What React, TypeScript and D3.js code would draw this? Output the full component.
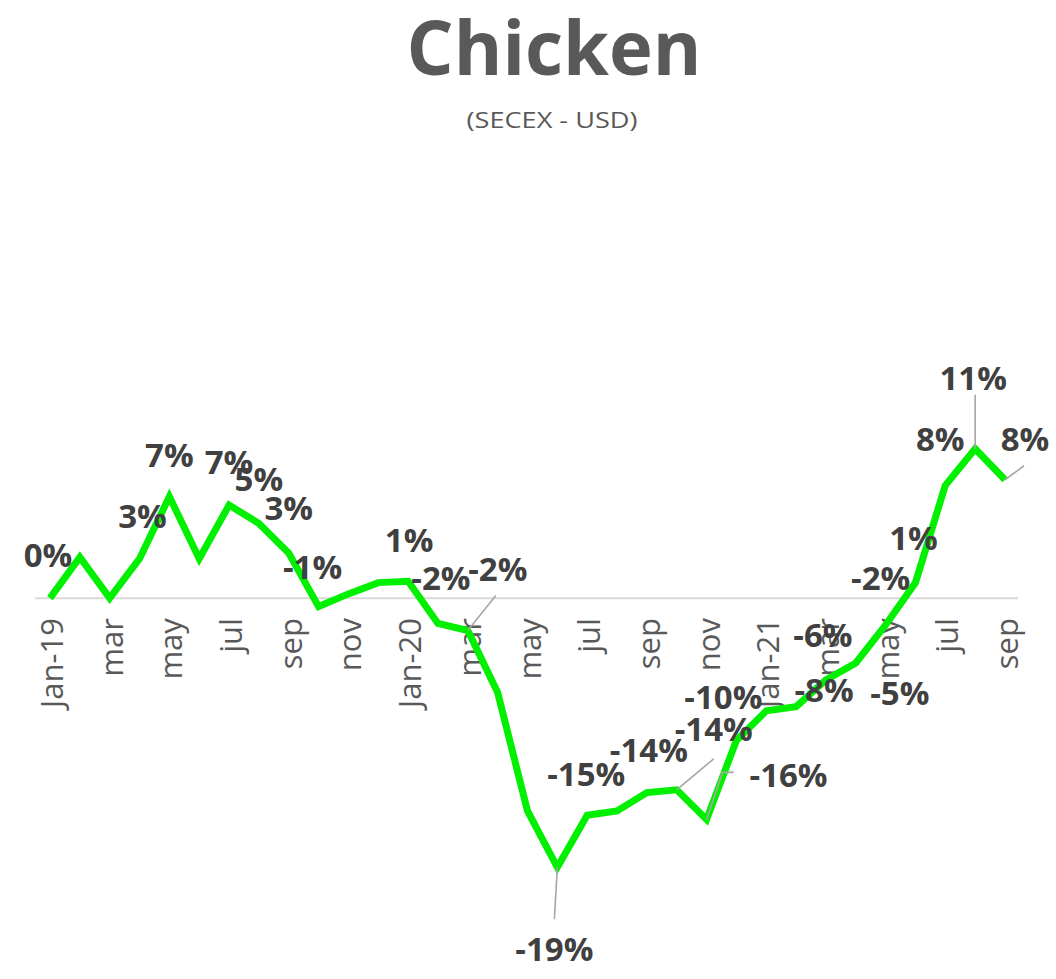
import React from 'react';
import * as d3 from 'd3';

// monthly change, Jan-19 .. Sep-21 (%)
const months = [
  'Jan-19', 'Feb-19', 'Mar-19', 'Apr-19', 'May-19', 'Jun-19', 'Jul-19', 'Aug-19', 'Sep-19', 'Oct-19', 'Nov-19', 'Dec-19',
  'Jan-20', 'Feb-20', 'Mar-20', 'Apr-20', 'May-20', 'Jun-20', 'Jul-20', 'Aug-20', 'Sep-20', 'Oct-20', 'Nov-20', 'Dec-20',
  'Jan-21', 'Feb-21', 'Mar-21', 'Apr-21', 'May-21', 'Jun-21', 'Jul-21', 'Aug-21', 'Sep-21',
];
const tickLabels = [
  'Jan-19', '', 'mar', '', 'may', '', 'jul', '', 'sep', '', 'nov', '',
  'Jan-20', '', 'mar', '', 'may', '', 'jul', '', 'sep', '', 'nov', '',
  'Jan-21', '', 'mar', '', 'may', '', 'jul', '', 'sep',
];
const values = [
  0, 2.9, 0, 2.8, 7.2, 2.8, 6.6, 5.3, 3.2, -0.6, 0.3, 1.1,
  1.2, -1.8, -2.3, -6.7, -15.1, -19.1, -15.4, -15.1, -13.8, -13.6, -15.7, -10.1,
  -8.0, -7.7, -5.8, -4.6, -1.9, 1.1, 8.0, 10.6, 8.4,
];

// which points carry a data label, and where the label sits relative to the point
const labelPlacement = [
  { i: 0, dx: -2, dy: -43 },
  { i: 3, dx: 3, dy: -43 },
  { i: 4, dx: 0, dy: -42 },
  { i: 6, dx: 0, dy: -43 },
  { i: 7, dx: 0, dy: -44 },
  { i: 8, dx: 0, dy: -45 },
  { i: 9, dx: -6, dy: -40 },
  { i: 12, dx: 1, dy: -41 },
  { i: 13, dx: 3, dy: -45 },
  { i: 14, dx: 30, dy: -62, leader: [[0, 0], [28, -35]] },
  { i: 17, dx: -3, dy: 82, leader: [[0, 0], [-3, 52]] },
  { i: 18, dx: -1, dy: -41 },
  { i: 20, dx: 2, dy: -43 },
  { i: 21, dx: 37, dy: -61, leader: [[0, 0], [37, -31]] },
  { i: 22, dx: 82, dy: -44, leader: [[0, 0], [16, -47], [27, -47]] },
  { i: 23, dx: -13, dy: -43 },
  { i: 25, dx: 28, dy: -17 },
  { i: 26, dx: -3, dy: -45 },
  { i: 27, dx: 44, dy: 30 },
  { i: 28, dx: -5, dy: -47 },
  { i: 29, dx: -2, dy: -45 },
  { i: 30, dx: -5, dy: -46 },
  { i: 31, dx: -2, dy: -71, leader: [[0, 0], [0, -54]] },
  { i: 32, dx: 20, dy: -41, leader: [[0, 0], [19, -14]] },
];

const W = 1056;
const H = 979;
const font = '"Open Sans", "Noto Sans", sans-serif';

const App = () => {
  const x = d3.scalePoint<string>().domain(months).range([50, 1005]);
  const y = d3.scaleLinear().domain([-20, 12]).range([880, 429]);

  const line = d3
    .line<number>()
    .x((_, i) => x(months[i]) as number)
    .y(d => y(d));

  const leaderLine = d3.line();

  return (
    <svg width={W} height={H} style={{ position: 'absolute', left: 0, top: 0, background: '#fff' }}>
      <text x={554} y={75} textAnchor="middle" fontFamily={font} fontWeight="bold" fontSize={76}
        fill="#595959" textLength={295} lengthAdjust="spacingAndGlyphs">Chicken</text>
      <text x={552} y={128} textAnchor="middle" fontFamily={font} fontSize={21}
        fill="#595959" textLength={171} lengthAdjust="spacingAndGlyphs">(SECEX - USD)</text>

      {/* zero axis */}
      <line x1={35} x2={1018} y1={y(0)} y2={y(0)} stroke="#d9d9d9" strokeWidth={2} />

      {/* category ticks */}
      {months.map((m, i) => tickLabels[i] ? (
        <text key={m} transform={`translate(${x(m)},${y(0) + 20}) rotate(-90)`} textAnchor="end"
          dy="0.42em" fontFamily={font} fontSize={31} fill="#595959">{tickLabels[i]}</text>
      ) : null)}

      <path d={line(values) || ''} fill="none" stroke="#00f000" strokeWidth={7} />

      {/* leader lines */}
      {labelPlacement.filter(p => p.leader).map(p => {
        const px = x(months[p.i]) as number;
        const py = y(values[p.i]);
        const pts = p.leader!.map(([a, b]) => [px + a, py + b] as [number, number]);
        return <path key={'l' + p.i} d={leaderLine(pts) || ''} fill="none" stroke="#a6a6a6" strokeWidth={1.6} />;
      })}

      {/* data labels */}
      {labelPlacement.map(p => {
        const px = x(months[p.i]) as number;
        const py = y(values[p.i]);
        return (
          <text key={'t' + p.i} x={px + p.dx} y={py + p.dy + 12} textAnchor="middle" fontFamily={font}
            fontWeight="bold" fontSize={33} fill="#404040">{`${Math.round(values[p.i])}%`}</text>
        );
      })}
    </svg>
  );
};

export default App;
